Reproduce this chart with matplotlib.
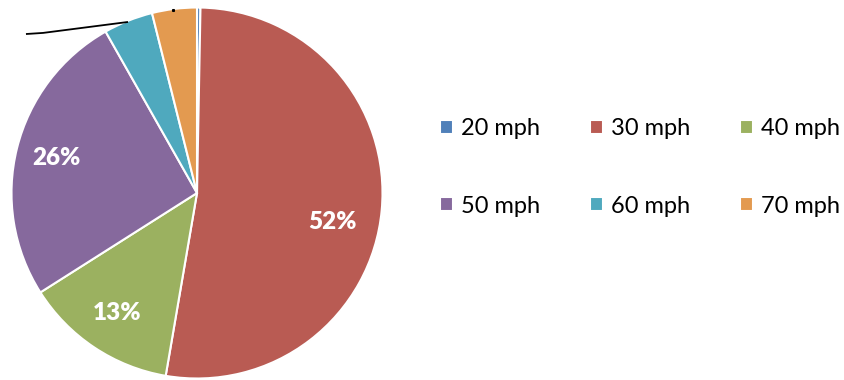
import numpy as np
import matplotlib
matplotlib.use("Agg")
import matplotlib.pyplot as plt

# Speed limit share (pie, clockwise from top)
categories = ["20 mph", "30 mph", "40 mph", "50 mph", "60 mph", "70 mph"]
shares = [0.3, 52.4, 13.3, 25.8, 4.3, 3.9]
colours = ["#5080B9", "#B95B53", "#9BB160", "#86699D", "#4FA9BE", "#E39A50"]

plt.rcParams["font.family"] = ["Lato", "DejaVu Sans"]

W, H = 844, 380
fig = plt.figure(figsize=(W / 100, H / 100), dpi=100)

# pie axes placed in pixels: centre (197, 193), radius 185.5
cx, cy, r = 197, 193, 185.5
ax = fig.add_axes([(cx - r) / W, (H - cy - r) / H, 2 * r / W, 2 * r / H])


def pct_label(p):
    return f"{p:.0f}%" if p >= 10 else ""


wedges, texts, autotexts = ax.pie(
    shares, colors=colours, startangle=90, counterclock=False,
    autopct=pct_label, pctdistance=0.78,
    wedgeprops=dict(edgecolor="white", linewidth=1.5),
    textprops=dict(color="white", fontsize=17.5, fontweight="heavy"),
)
ax.set_xlim(-1, 1)
ax.set_ylim(-1, 1)
ax.set_aspect("equal")

# the 52% label sits a little lower than the wedge middle
ang = np.deg2rad(-12)
autotexts[1].set_position((0.745 * np.cos(ang), 0.745 * np.sin(ang)))

# leader line of the hidden small label
ax.plot([-0.922, -0.830, -0.372], [0.857, 0.863, 0.922], color="black",
        lw=1.3, clip_on=False, solid_capstyle="butt")
ax.plot([-0.129], [0.987], marker="s", ms=1.2, color="black", clip_on=False)

# legend filled row-wise: 20 30 40 / 50 60 70
order = [0, 3, 1, 4, 2, 5]
fig.legend([wedges[i] for i in order], [categories[i] for i in order],
           loc="upper left", bbox_to_anchor=(440 / W, 1 - 118 / H),
           ncol=3, frameon=False, fontsize=17,
           handlelength=0.55, handleheight=0.55, handletextpad=0.35,
           columnspacing=2.1, labelspacing=2.4, borderpad=0, borderaxespad=0)

fig.savefig("out.png", dpi=100)
